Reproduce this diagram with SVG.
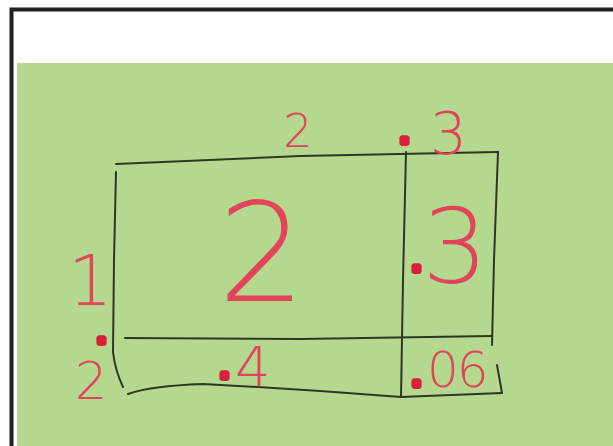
<svg xmlns="http://www.w3.org/2000/svg" width="613" height="446" viewBox="0 0 613 446">
<style>
.ln{fill:none;stroke:#2f3527;stroke-width:2;stroke-linecap:round;stroke-linejoin:round}
.num{font-family:"DejaVu Sans","Liberation Sans",sans-serif;font-weight:200;fill:#e2445a}
.dot{font-weight:bold;font-size:24px;fill:#d9203f;stroke:#d9203f;stroke-width:6;stroke-linejoin:round}
</style>
<rect x="0" y="0" width="613" height="446" fill="#ffffff"/>
<path d="M11.5 446 V9.5 H613" fill="none" stroke="#222222" stroke-width="4"/>
<rect x="17" y="63" width="596" height="383" fill="#b4d98e"/>
<g id="connectors">
<path class="ln" d="M116 164 L300 156 L498 152"/>
<path class="ln" d="M116 172 L114 260 L113 352 Q115 370 123 387"/>
<path class="ln" d="M125 338 L300 339 L492 336"/>
<path class="ln" d="M128 394 Q150 386 203 384 Q300 389 401 397 L502 393"/>
<path class="ln" d="M406 152 L403 280 L401 397"/>
<path class="ln" d="M498 152 L494 260 L492 345"/>
<path class="ln" d="M497 365 L502 393"/>
</g>
<g id="top-2"><text class="num" x="298" y="147" font-size="46" text-anchor="middle">2</text></g>
<g id="top-03"><text class="num" font-size="58"><tspan class="dot" x="400" y="143">.</tspan><tspan x="430" y="154">3</tspan></text></g>
<g id="center-2"><text class="num" x="262" y="301" font-size="138" text-anchor="middle">2</text></g>
<g id="right-03"><text class="num" font-size="104"><tspan class="dot" x="412" y="271">.</tspan><tspan x="422" y="283">3</tspan></text></g>
<g id="left-12"><text class="num" font-size="70"><tspan x="68" y="305">1</tspan><tspan class="dot" x="97" y="343">.</tspan><tspan x="75" y="399" font-size="51">2</tspan></text></g>
<g id="bottom-04"><text class="num" font-size="56"><tspan class="dot" x="220" y="378">.</tspan><tspan x="235" y="386">4</tspan></text></g>
<g id="bottom-006"><text class="num" font-size="50"><tspan class="dot" x="412" y="386">.</tspan><tspan x="427" y="387" letter-spacing="-2">06</tspan></text></g>
</svg>
